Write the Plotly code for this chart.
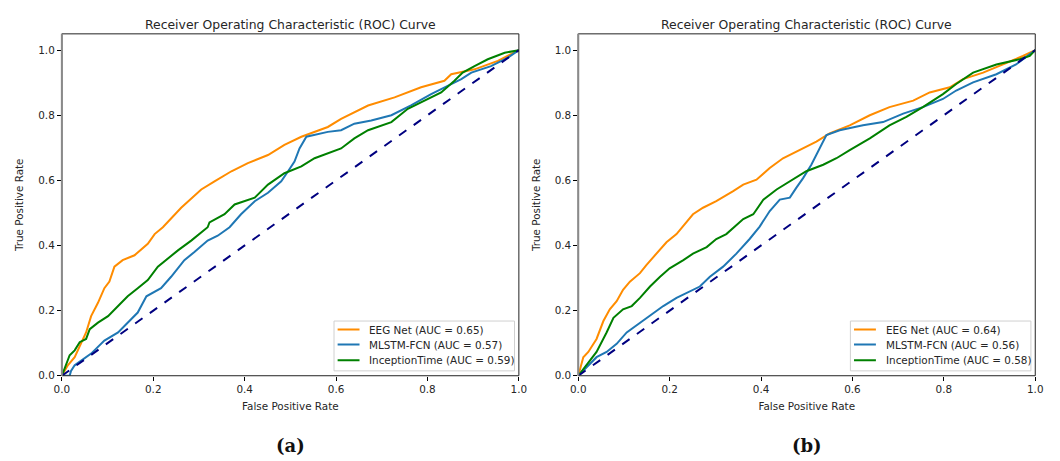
import plotly.graph_objects as go

# ---------------- data ----------------
labels = ["EEG Net", "MLSTM-FCN", "InceptionTime"]
auc_a = [0.65, 0.57, 0.59]
auc_b = [0.64, 0.56, 0.58]

# Panel (a)
a_eeg_fpr = [0, 0.013, 0.028, 0.053, 0.064, 0.079, 0.093, 0.104, 0.115, 0.133, 0.159, 0.188, 0.203, 0.221,
             0.261, 0.305, 0.334, 0.371, 0.407, 0.451, 0.487, 0.524, 0.582, 0.611, 0.670, 0.728, 0.786,
             0.837, 0.852, 0.903, 0.954, 1.0]
a_eeg_tpr = [0, 0.032, 0.057, 0.133, 0.183, 0.224, 0.269, 0.289, 0.335, 0.355, 0.370, 0.405, 0.435, 0.456,
             0.516, 0.572, 0.597, 0.628, 0.653, 0.678, 0.709, 0.734, 0.764, 0.789, 0.830, 0.855, 0.886,
             0.906, 0.926, 0.941, 0.967, 1.0]
a_mlstm_fpr = [0, 0.017, 0.020, 0.028, 0.064, 0.093, 0.123, 0.144, 0.166, 0.185, 0.203, 0.217, 0.239, 0.268,
               0.290, 0.319, 0.341, 0.367, 0.392, 0.422, 0.451, 0.480, 0.495, 0.509, 0.520, 0.535, 0.582,
               0.611, 0.640, 0.677, 0.721, 0.764, 0.808, 0.830, 0.874, 0.896, 0.939, 0.976, 1.0]
a_mlstm_tpr = [0, 0.0, 0.015, 0.032, 0.068, 0.108, 0.133, 0.163, 0.194, 0.244, 0.259, 0.269, 0.304, 0.355,
               0.380, 0.415, 0.430, 0.456, 0.496, 0.536, 0.562, 0.597, 0.628, 0.658, 0.698, 0.734, 0.749,
               0.754, 0.774, 0.784, 0.800, 0.830, 0.865, 0.881, 0.911, 0.931, 0.951, 0.977, 1.0]
a_incep_fpr = [0, 0.006, 0.017, 0.028, 0.039, 0.053, 0.061, 0.079, 0.101, 0.123, 0.144, 0.166, 0.188, 0.210,
               0.232, 0.254, 0.283, 0.319, 0.323, 0.356, 0.378, 0.422, 0.451, 0.487, 0.524, 0.553, 0.611,
               0.640, 0.670, 0.721, 0.757, 0.794, 0.830, 0.859, 0.877, 0.903, 0.932, 0.969, 1.0]
a_incep_tpr = [0, 0.022, 0.063, 0.078, 0.103, 0.113, 0.143, 0.163, 0.183, 0.214, 0.244, 0.269, 0.294, 0.335,
               0.360, 0.385, 0.415, 0.456, 0.471, 0.496, 0.526, 0.547, 0.587, 0.622, 0.643, 0.668, 0.698,
               0.729, 0.754, 0.779, 0.820, 0.845, 0.870, 0.906, 0.931, 0.951, 0.972, 0.992, 1.0]

# Panel (b)
b_eeg_fpr = [0, 0.011, 0.022, 0.040, 0.055, 0.069, 0.084, 0.098, 0.113, 0.135, 0.149, 0.171, 0.193, 0.215,
             0.230, 0.251, 0.273, 0.302, 0.339, 0.361, 0.390, 0.419, 0.448, 0.477, 0.521, 0.550, 0.594,
             0.638, 0.681, 0.733, 0.769, 0.813, 0.842, 0.886, 0.929, 0.973, 1.0]
b_eeg_tpr = [0, 0.057, 0.073, 0.113, 0.168, 0.204, 0.229, 0.264, 0.289, 0.315, 0.340, 0.375, 0.410, 0.435,
             0.461, 0.496, 0.516, 0.536, 0.567, 0.587, 0.602, 0.638, 0.668, 0.688, 0.719, 0.744, 0.769,
             0.800, 0.825, 0.845, 0.870, 0.886, 0.911, 0.931, 0.956, 0.982, 1.0]
b_mlstm_fpr = [0, 0.018, 0.040, 0.062, 0.084, 0.106, 0.135, 0.164, 0.186, 0.215, 0.244, 0.266, 0.288, 0.317,
               0.346, 0.375, 0.397, 0.419, 0.441, 0.463, 0.477, 0.492, 0.510, 0.528, 0.543, 0.572, 0.623,
               0.667, 0.711, 0.754, 0.798, 0.827, 0.864, 0.915, 0.958, 1.0]
b_mlstm_tpr = [0, 0.027, 0.057, 0.073, 0.098, 0.133, 0.163, 0.194, 0.214, 0.239, 0.259, 0.274, 0.304, 0.335,
               0.375, 0.420, 0.458, 0.506, 0.541, 0.547, 0.577, 0.607, 0.648, 0.698, 0.739, 0.754, 0.769,
               0.779, 0.805, 0.825, 0.850, 0.876, 0.901, 0.926, 0.956, 1.0]
b_incep_fpr = [0, 0.018, 0.040, 0.062, 0.077, 0.098, 0.117, 0.135, 0.157, 0.179, 0.200, 0.230, 0.251, 0.281,
               0.302, 0.324, 0.343, 0.361, 0.383, 0.405, 0.434, 0.470, 0.499, 0.536, 0.565, 0.594, 0.638,
               0.681, 0.718, 0.754, 0.798, 0.827, 0.864, 0.915, 0.966, 0.988, 1.0]
b_incep_tpr = [0, 0.032, 0.073, 0.133, 0.178, 0.204, 0.214, 0.239, 0.274, 0.304, 0.330, 0.355, 0.375, 0.395,
               0.420, 0.435, 0.458, 0.481, 0.496, 0.541, 0.572, 0.602, 0.628, 0.648, 0.668, 0.693, 0.729,
               0.769, 0.795, 0.825, 0.865, 0.896, 0.931, 0.956, 0.972, 0.982, 1.0]

diag = [0, 1]
colors = ["#ff8c00", "#1f77b4", "#008000"]
title_text = "Receiver Operating Characteristic (ROC) Curve"
x_title = "False Positive Rate"
y_title = "True Positive Rate"
tick_vals = [0.0, 0.2, 0.4, 0.6, 0.8, 1.0]
tick_text = ["0.0", "0.2", "0.4", "0.6", "0.8", "1.0"]
captions = ["(a)", "(b)"]

# ---------------- figure ----------------
W, H = 1060, 461
FONT = "DejaVu Sans"
TXT = "#262626"
FS = 10.4

def px(v):
    return v / W

def py(v):
    return 1 - v / H

xdoms = [[px(54.7), px(518.7)], [px(579.0), px(1043.0)]]
ydom = [py(380.7), py(34.3)]

fig = go.Figure()

panels = [
    (("x", "y"), [(a_eeg_fpr, a_eeg_tpr), (a_mlstm_fpr, a_mlstm_tpr), (a_incep_fpr, a_incep_tpr)], auc_a),
    (("x2", "y2"), [(b_eeg_fpr, b_eeg_tpr), (b_mlstm_fpr, b_mlstm_tpr), (b_incep_fpr, b_incep_tpr)], auc_b),
]

# legend geometry (axis-domain fraction for x, data units for y)
LEG_X0, LEG_X1 = 0.5955, 0.9905
LEG_Y0, LEG_Y1 = 0.015, 0.168
LEG_LINE_X0, LEG_LINE_X1, LEG_TXT_X = 0.6034, 0.6513, 0.6683
LEG_ROWS = [0.142, 0.0958, 0.0474]

for i, ((xa, ya), series, aucs) in enumerate(panels):
    for (fx, ty), name, c, auc in zip(series, labels, colors, aucs):
        fig.add_trace(go.Scatter(
            x=fx, y=ty, mode="lines", xaxis=xa, yaxis=ya, showlegend=False,
            name=f"{name} (AUC = {auc:.2f})",
            line=dict(color=c, width=2),
            hoverinfo="skip",
        ))
    fig.add_trace(go.Scatter(
        x=diag, y=diag, mode="lines", xaxis=xa, yaxis=ya, showlegend=False,
        line=dict(color="#000080", width=2, dash="dash"), hoverinfo="skip",
    ))

    xd, yd = f"{xa} domain", f"{ya} domain"
    # axes box (black) with grey left spine as in the reference
    fig.add_shape(type="rect", xref=xd, yref=yd, x0=0, x1=1, y0=0, y1=1,
                  line=dict(color="#222", width=1), layer="above")
    fig.add_shape(type="line", xref=xd, yref=yd, x0=0, x1=0, y0=0, y1=1,
                  line=dict(color="#8a8a8a", width=2), layer="above")

    # legend box
    fig.add_shape(type="rect", xref=xd, yref=ya, x0=LEG_X0, x1=LEG_X1, y0=LEG_Y0, y1=LEG_Y1,
                  line=dict(color="#d0d0d0", width=1), fillcolor="rgba(255,255,255,0.85)",
                  layer="above")
    for row_y, name, c, auc in zip(LEG_ROWS, labels, colors, aucs):
        fig.add_shape(type="line", xref=xd, yref=ya, x0=LEG_LINE_X0, x1=LEG_LINE_X1,
                      y0=row_y, y1=row_y, line=dict(color=c, width=2), layer="above")
        fig.add_annotation(text=f"{name} (AUC = {auc:.2f})", xref=xd, yref=ya,
                           x=LEG_TXT_X, y=row_y, xanchor="left", yanchor="middle",
                           showarrow=False, font=dict(family=FONT, size=FS, color=TXT))

    # subplot title
    fig.add_annotation(text=title_text, xref=xd, yref="paper",
                       x=0.5, y=py(24.5), xanchor="center", yanchor="middle", showarrow=False,
                       font=dict(family=FONT, size=12.4, color=TXT))
    # panel caption
    fig.add_annotation(text=f"<b>{captions[i]}</b>", xref=xd, yref="paper",
                       x=0.5, y=py(451), xanchor="center", yanchor="middle",
                       showarrow=False,
                       font=dict(family="DejaVu Serif", size=18, color="#111"))

axis_common = dict(
    showgrid=False, zeroline=False, showline=False,
    ticks="outside", ticklen=4, tickwidth=1, tickcolor="#000",
    tickfont=dict(family=FONT, size=FS, color=TXT),
    tickvals=tick_vals, ticktext=tick_text,
)

def xt():
    return dict(text=x_title, font=dict(family=FONT, size=FS, color=TXT), standoff=8)

def yt():
    return dict(text=y_title, font=dict(family=FONT, size=FS, color=TXT), standoff=12)

fig.update_layout(
    width=W, height=H,
    margin=dict(l=0, r=0, t=0, b=0),
    paper_bgcolor="white", plot_bgcolor="white",
    showlegend=False,
    xaxis=dict(domain=xdoms[0], range=[0, 1], anchor="y", title=xt(), **axis_common),
    yaxis=dict(domain=ydom, range=[0, 1.05], anchor="x", title=yt(), **axis_common),
    xaxis2=dict(domain=xdoms[1], range=[0, 1], anchor="y2", title=xt(), **axis_common),
    yaxis2=dict(domain=ydom, range=[0, 1.05], anchor="x2", title=yt(), **axis_common),
)

fig.write_html("out.html")
